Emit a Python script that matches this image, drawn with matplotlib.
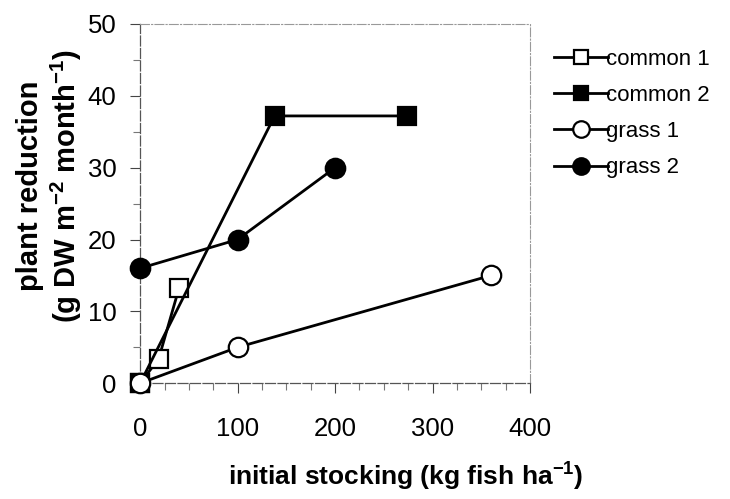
import matplotlib
matplotlib.use("Agg")
import matplotlib.pyplot as plt
from matplotlib.ticker import MultipleLocator

plt.rcParams["font.family"] = ["Liberation Sans", "DejaVu Sans"]
plt.rcParams["mathtext.fontset"] = "custom"
plt.rcParams["mathtext.rm"] = "Liberation Sans"
plt.rcParams["mathtext.bf"] = "Liberation Sans:bold"

# data
common1_x = [0, 19, 40]
common1_y = [0, 3.4, 13.3]
common2_x = [0, 138, 274]
common2_y = [0, 37.2, 37.2]
grass1_x = [0, 100, 360]
grass1_y = [0, 5.0, 15.0]
grass2_x = [0, 100, 200]
grass2_y = [16.0, 20.0, 30.0]

fig = plt.figure(figsize=(7.3, 4.99), dpi=100)
ax = fig.add_axes([0.192, 0.232, 0.534, 0.72])

style = dict(color="black", linewidth=2.0, markeredgewidth=1.6,
             markeredgecolor="black", clip_on=False, zorder=3)
ax.plot(common1_x, common1_y, marker="s", markersize=12.5,
        markerfacecolor="white", label="common 1", **style)
ax.plot(common2_x, common2_y, marker="s", markersize=12.5,
        markerfacecolor="black", label="common 2", **style)
ax.plot(grass1_x, grass1_y, marker="o", markersize=14,
        markerfacecolor="white", label="grass 1", **style)
ax.plot(grass2_x, grass2_y, marker="o", markersize=14,
        markerfacecolor="black", label="grass 2", **style)

ax.set_xlim(0, 400)
ax.set_ylim(0, 50)
ax.xaxis.set_major_locator(MultipleLocator(100))
ax.xaxis.set_minor_locator(MultipleLocator(25))
ax.yaxis.set_major_locator(MultipleLocator(10))
ax.yaxis.set_minor_locator(MultipleLocator(5))
ax.tick_params(which="major", direction="out", length=7, width=0.8,
               color="#444444", labelsize=18.5)
ax.tick_params(axis="x", which="major", pad=17)
ax.tick_params(axis="y", which="major", pad=10)
ax.tick_params(which="minor", direction="out", length=5, width=0.8,
               color="#777777")

for side in ("left", "bottom"):
    ax.spines[side].set_color("#555555")
    ax.spines[side].set_linewidth(0.9)
    ax.spines[side].set_linestyle((0, (8, 2)))
for side in ("top", "right"):
    ax.spines[side].set_color("#999999")
    ax.spines[side].set_linewidth(0.8)
    ax.spines[side].set_linestyle((0, (8, 2, 1, 2)))

# labels placed as in the original (x label sits right of axes centre)
ax.set_xlabel("initial stocking (kg fish ha$^{\\mathbf{-1}}$)",
              fontsize=19, fontweight="bold")
ax.xaxis.set_label_coords(0.68, -0.21)
ax.set_ylabel("plant reduction\n(g DW m$^{\\mathbf{-2}}$ month$^{\\mathbf{-1}}$)",
              fontsize=21, fontweight="bold", linespacing=1.15)
ax.yaxis.set_label_coords(-0.145, 0.55)

ax.legend(loc="upper left", bbox_to_anchor=(1.04, 0.955), frameon=False,
          fontsize=16, handlelength=2.4, handletextpad=-0.1,
          labelspacing=0.68, markerscale=0.85, borderaxespad=0)

fig.savefig("out.png", dpi=100)
